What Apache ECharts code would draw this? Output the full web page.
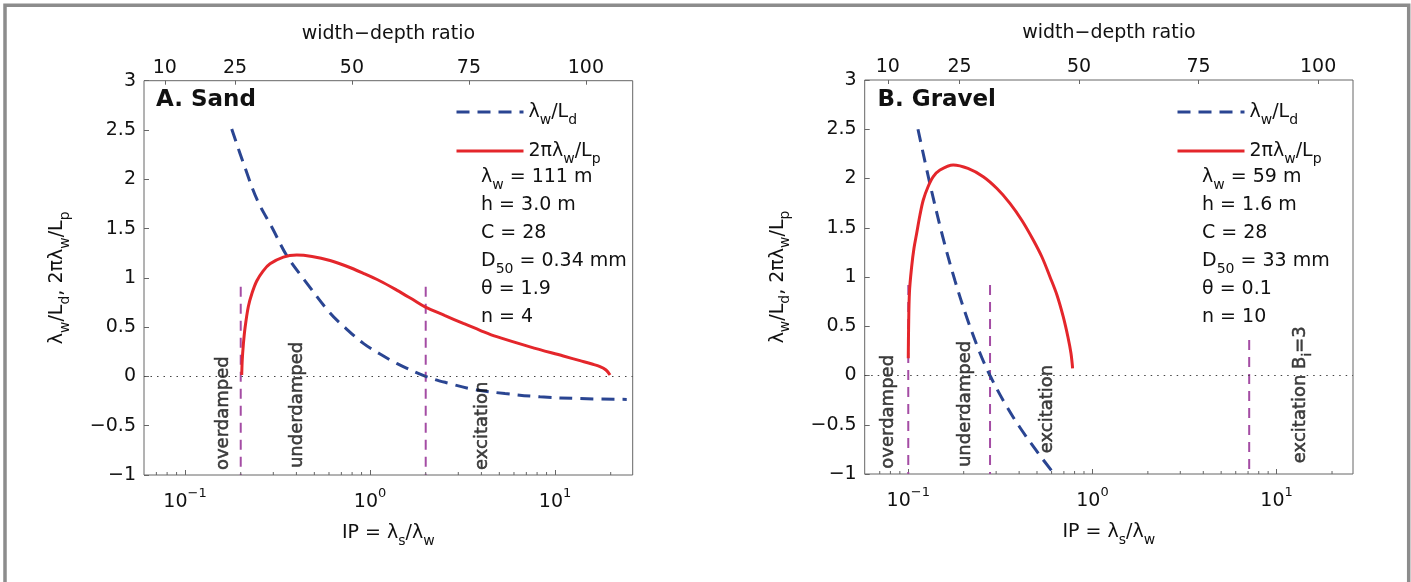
<!DOCTYPE html>
<html><head><meta charset="utf-8">
<script src="https://cdn.jsdelivr.net/npm/echarts@6/dist/echarts.min.js"></script>
<style>html,body{margin:0;padding:0;background:#fff;}#c{width:1411px;height:582px;}</style>
</head><body><div id="c"></div>
<script>
// ---------- DATA ----------
// Panel A: Sand  -- [IP, value]
const sandLd = [[0.1788,2.509],[0.211,2.117],[0.2459,1.788],[0.2953,1.51],[0.3558,1.221],[0.4452,0.97],[0.6078,0.643],[0.7418,0.486],[0.92,0.335],[1.133,0.227],[1.394,0.132],[2.0,0.0],[2.706,-0.073],[3.618,-0.131],[5.367,-0.174],[8.297,-0.207],[13.65,-0.225],[24.42,-0.233]];
const sandLp = [[0.2025,0.014],[0.2038,0.166],[0.2065,0.318],[0.211,0.491],[0.2199,0.709],[0.2303,0.846],[0.2441,0.968],[0.264,1.069],[0.288,1.142],[0.34,1.211],[0.4016,1.231],[0.4859,1.216],[0.6078,1.176],[0.7418,1.12],[0.92,1.046],[1.133,0.968],[1.394,0.876],[1.687,0.785],[1.983,0.706],[2.544,0.617],[3.193,0.538],[3.932,0.468],[4.841,0.403],[7.326,0.30],[11.09,0.207],[13.65,0.16],[15.85,0.126],[17.51,0.10],[18.87,0.065],[19.83,0.014]];
// Panel B: Gravel
const gravelLd = [[0.1129,2.5],[0.1312,1.944],[0.1543,1.40],[0.1793,0.963],[0.2083,0.584],[0.245,0.229],[0.2778,0.0],[0.335,-0.284],[0.404,-0.528],[0.519,-0.812],[0.62,-1.0]];
const gravelLp = [[0.1,0.175],[0.10038,0.462],[0.10151,0.848],[0.10434,1.105],[0.10744,1.294],[0.1111,1.444],[0.11574,1.629],[0.12064,1.782],[0.12791,1.914],[0.13669,2.018],[0.14862,2.086],[0.17545,2.137],[0.21092,2.102],[0.25538,2.018],[0.30307,1.898],[0.35656,1.748],[0.41434,1.574],[0.47716,1.376],[0.5319,1.203],[0.58782,1.003],[0.64174,0.817],[0.69405,0.597],[0.73622,0.391],[0.76434,0.228],[0.78076,0.073]];
// regime boundaries (IP) and top of the dashed marker
const sandMarkers = [0.2, 2.0];
const sandMarkerTops = [0.91, 0.91];
const gravelMarkers = [0.1, 0.278, 7.1];
const gravelMarkerTops = [0.92, 0.92, 0.36];
// regime labels: anchor (IP, y) at start of rotated text
const sandRegimes = [{ip:0.1615,y:-0.95,text:'overdamped'},{ip:0.403,y:-0.93,text:'underdamped'},{ip:4.06,y:-0.95,text:'excitation'}];
const gravelRegimes = [{ip:0.078,y:-0.946,text:'overdamped'},{ip:0.2044,y:-0.93,text:'underdamped'},{ip:0.57,y:-0.79,text:'excitation'},{ip:13.5,y:-0.89,text:'{m|excitation B}{s|i}{m|=3}'}];
// parameter annotations
const sandParams = ['{m|λ}{s|w}{m| = 111 m}','{m|h = 3.0 m}','{m|C = 28}','{m|D}{s|50}{m| = 0.34 mm}','{m|θ = 1.9}','{m|n = 4}'];
const gravelParams = ['{m|λ}{s|w}{m| = 59 m}','{m|h = 1.6 m}','{m|C = 28}','{m|D}{s|50}{m| = 33 mm}','{m|θ = 0.1}','{m|n = 10}'];
// axes
const topTicks = [10, 25, 50, 75, 100];
const minorTicks = [0.07,0.08,0.09,0.2,0.3,0.4,0.5,0.6,0.7,0.8,0.9,2,3,4,5,6,7,8,9,20];
const yTicksMin = -1, yTicksMax = 3, yStep = 0.5;
const seriesNames = ['λw/Ld', '2πλw/Lp'];
const legendRich = {'λw/Ld':'{m|λ}{s|w}{m|/L}{s|d}', '2πλw/Lp':'{m|2πλ}{s|w}{m|/L}{s|p}'};

// ---------- STYLE ----------
const FONT = 'DejaVu Sans';
const BLUE = '#2a4592', RED = '#e4262b', PURPLE = '#a44ca4', AX = '#666', TXT = '#111';
function rich(fs, sfs, h, sh, extra){
  const e = extra || {};
  return {
    m:Object.assign({fontFamily:FONT,fontSize:fs,fontWeight:'normal',color:TXT,verticalAlign:'top',height:h,lineHeight:h},e),
    s:Object.assign({fontFamily:FONT,fontSize:sfs,fontWeight:'normal',color:TXT,verticalAlign:'bottom',height:sh,lineHeight:sh},e),
    p:Object.assign({fontFamily:FONT,fontSize:sfs,fontWeight:'normal',color:TXT,verticalAlign:'top',height:sh,lineHeight:sh},e)
  };
}

const panels = [
  {grid:{left:144,right:778.3,top:80.7,bottom:107}, xMin:0.06, xMax:26.3, tMin:5.56, tMax:110,
   Ld:sandLd, Lp:sandLp, markers:sandMarkers, tops:sandMarkerTops, regimes:sandRegimes,
   title:'A. Sand', titleLeft:156, paramLeft:481, legendLeft:455, params:sandParams},
  {grid:{left:864.7,right:58,top:80,bottom:108}, xMin:0.058, xMax:26, tMin:5.17, tMax:107.3,
   Ld:gravelLd, Lp:gravelLp, markers:gravelMarkers, tops:gravelMarkerTops, regimes:gravelRegimes,
   title:'B. Gravel', titleLeft:877.5, paramLeft:1202, legendLeft:1176, params:gravelParams}
];

const grid=[], xAxis=[], yAxis=[], series=[], title=[], legend=[];
panels.forEach((P,g)=>{
  grid.push(Object.assign({show:true,borderColor:AX,borderWidth:1,backgroundColor:'#fff',outerBoundsMode:'none'},P.grid));
  xAxis.push({
    gridIndex:g, type:'log', logBase:10, min:P.xMin, max:P.xMax, position:'bottom',
    axisLine:{show:false,onZero:false}, splitLine:{show:false},
    axisTick:{show:true,inside:true,length:5,lineStyle:{color:AX}},
    axisLabel:{margin:14,showMinLabel:false,showMaxLabel:false,rich:rich(19,13,26,10),
      formatter:v=>{const e=Math.round(Math.log10(v));return '{m|10}{p|'+(e<0?'−'+(-e):e)+'}';}},
    name:'{m|IP = λ}{s|s}{m|/λ}{s|w}', nameLocation:'middle', nameGap:37,
    nameTextStyle:{rich:rich(19,14,26,10)}
  });
  xAxis.push({
    gridIndex:g, type:'value', min:P.tMin, max:P.tMax, position:'top',
    axisLine:{show:false,onZero:false}, splitLine:{show:false},
    axisTick:{show:true,inside:true,length:4,customValues:topTicks,lineStyle:{color:AX}},
    axisLabel:{customValues:topTicks,fontFamily:FONT,fontSize:19,color:TXT,margin:2,lineHeight:22},
    name:'width−depth ratio', nameLocation:'middle', nameGap:36,
    nameTextStyle:{fontFamily:FONT,fontSize:19,color:TXT,lineHeight:22}
  });
  yAxis.push({
    gridIndex:g, type:'value', min:yTicksMin, max:yTicksMax, interval:yStep,
    axisLine:{show:false,onZero:false}, splitLine:{show:false},
    axisTick:{show:true,inside:true,length:5,lineStyle:{color:AX}},
    axisLabel:{fontFamily:FONT,fontSize:19,color:TXT,margin:8,
      formatter:v=>v<0?'−'+(-v):String(v)},
    name:'{m|λ}{s|w}{m|/L}{s|d}{m|, 2πλ}{s|w}{m|/L}{s|p}', nameLocation:'middle', nameGap:74,
    nameTextStyle:{rich:rich(19,14,26,10)}
  });
  P.markers.forEach((ip,i)=>{
    series.push({type:'line',xAxisIndex:2*g,yAxisIndex:g,silent:true,symbol:'none',
      data:[[ip,P.tops[i]],[ip,yTicksMin]],lineStyle:{color:PURPLE,width:2,type:[10,7]},z:2});
  });
  series.push({name:seriesNames[0],type:'line',xAxisIndex:2*g,yAxisIndex:g,data:P.Ld,
    symbol:'none',showSymbol:false,smooth:0.35,
    lineStyle:{color:BLUE,width:3,type:[13,8]},itemStyle:{color:BLUE},z:3,
    markLine:{silent:true,symbol:['none','none'],label:{show:false},
      lineStyle:{type:[1.5,5],color:'#444',width:1},data:[{yAxis:0}]}});
  series.push({name:seriesNames[1],type:'line',xAxisIndex:2*g,yAxisIndex:g,data:P.Lp,
    symbol:'none',showSymbol:false,smooth:0.35,
    lineStyle:{color:RED,width:3},itemStyle:{color:RED},z:4});
  series.push({type:'custom',xAxisIndex:2*g,yAxisIndex:g,silent:true,
    data:minorTicks.map(v=>[v,yTicksMin]),
    renderItem:(params,api)=>{const p=api.coord([api.value(0),api.value(1)]);
      return {type:'line',shape:{x1:p[0],y1:p[1],x2:p[0],y2:p[1]-3},style:{stroke:AX,lineWidth:1}};},z:5});
  series.push({type:'scatter',xAxisIndex:2*g,yAxisIndex:g,silent:true,symbolSize:1,
    itemStyle:{color:'rgba(0,0,0,0)'},z:6,
    data:P.regimes.map(r=>({value:[r.ip,r.y],label:{formatter:r.text}})),
    label:{show:true,position:[0.5,0.5],rotate:90,align:'left',verticalAlign:'middle',
      textBorderColor:TXT,textBorderWidth:0.5,fontFamily:FONT,fontSize:18,color:TXT,
      rich:rich(18,13,24,10,{textBorderColor:TXT,textBorderWidth:0.5})}});
  title.push({text:P.title,left:P.titleLeft,top:87,padding:0,
    textStyle:{fontFamily:FONT,fontWeight:'bold',fontSize:23,color:TXT,lineHeight:26}});
  title.push({text:P.params.join('\n'),left:P.paramLeft,top:163,padding:0,
    textStyle:{fontWeight:'normal',rich:rich(19,14,28,12)}});
  legend.push({data:seriesNames,orient:'vertical',left:P.legendLeft,top:99,padding:0,
    itemWidth:67,itemHeight:14,itemGap:11,selectedMode:false,
    lineStyle:{width:3},itemStyle:{opacity:0,color:'rgba(0,0,0,0)',borderWidth:0},
    formatter:n=>legendRich[n],textStyle:{rich:rich(19,14,26,10)}});
});

const chart = echarts.init(document.getElementById('c'),null,{renderer:'canvas'});
chart.setOption({
  animation:false, backgroundColor:'#fff',
  grid, xAxis, yAxis, series, title, legend,
  graphic:[{type:'rect',shape:{x:5,y:5.3,width:1403.7,height:600},
    style:{fill:'none',stroke:'#8c8c8c',lineWidth:3.5},silent:true,z:-10}]
});
</script></body></html>
